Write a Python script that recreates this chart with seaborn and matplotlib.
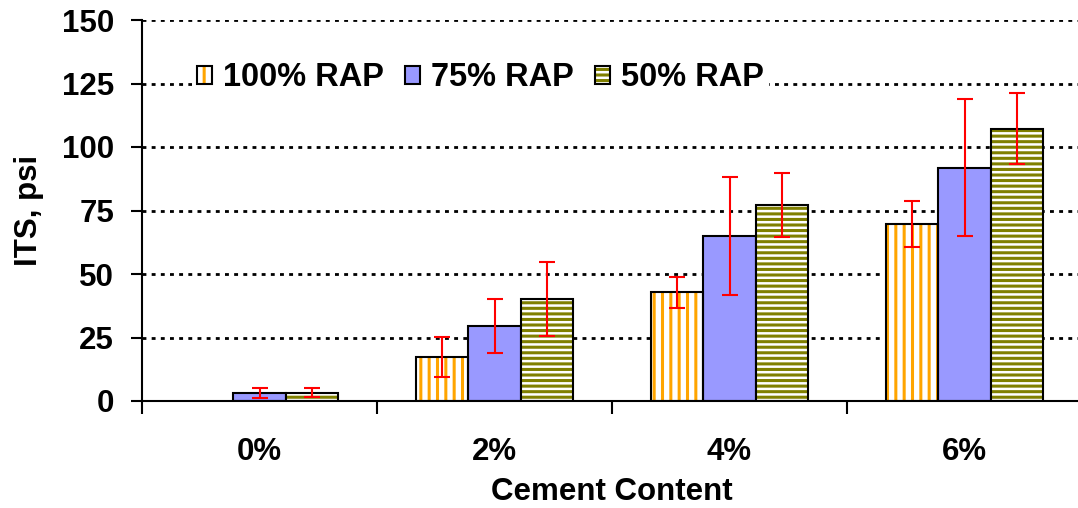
import numpy as np
import pandas as pd
import matplotlib
matplotlib.use('Agg')
import matplotlib.pyplot as plt
import seaborn as sns
from matplotlib.patches import Rectangle, Patch
from matplotlib.legend_handler import HandlerTuple

# values
cement = ['0%', '2%', '4%', '6%']
mixes = ['100% RAP', '75% RAP', '50% RAP']
its_100 = [0.0, 17.3, 42.8, 69.6]
its_75 = [3.3, 29.5, 65.0, 91.9]
its_50 = [3.3, 40.2, 77.2, 107.2]
err_100 = [np.nan, 7.9, 6.1, 9.0]
err_75 = [2.0, 10.6, 23.3, 27.0]
err_50 = [1.8, 14.5, 12.6, 14.0]

sns.set_theme(style='ticks')
plt.rcParams['font.family'] = ['Liberation Sans', 'DejaVu Sans']
plt.rcParams['font.weight'] = 'bold'
plt.rcParams['axes.labelweight'] = 'bold'
plt.rcParams['text.color'] = 'black'
plt.rcParams['axes.labelcolor'] = 'black'
plt.rcParams['hatch.linewidth'] = 2.2

df = pd.DataFrame({
    'Cement': cement * 3,
    'Mix': np.repeat(mixes, len(cement)),
    'ITS': its_100 + its_75 + its_50,
    'Err': err_100 + err_75 + err_50,
})

# face colour, hatch, hatch colour per mix
styles = {
    '100% RAP': ('white', '||', '#FFA500'),
    '75% RAP': ('#9999FF', '', None),
    '50% RAP': ('white', '---', '#808000'),
}
FS = 22.5

fig = plt.figure(figsize=(10.78, 5.08), dpi=100)
ax = fig.add_axes([142 / 1078, 1 - 401 / 508, (1082 - 142) / 1078, 381 / 508])

sns.barplot(data=df, x='Cement', y='ITS', hue='Mix', order=cement, hue_order=mixes,
            palette=[styles[m][0] for m in mixes], saturation=1, errorbar=None,
            width=0.665, gap=0, legend=False, ax=ax)

for p, (_, row) in zip(list(ax.patches), df.iterrows()):
    face, hatch, hcol = styles[row['Mix']]
    x, w, h = p.get_x(), p.get_width(), p.get_height()
    if hatch:
        p.set_hatch(hatch)
        p.set_edgecolor(hcol)
        p.set_linewidth(0)
        if h > 0:
            ax.add_patch(Rectangle((x, 0), w, h, fill=False, edgecolor='black',
                                   linewidth=1.5, zorder=p.get_zorder() + 0.1))
    else:
        p.set_edgecolor('black')
        p.set_linewidth(1.5)
    if not np.isnan(row['Err']):
        ax.errorbar(x + w / 2, h, yerr=row['Err'], fmt='none', ecolor='red',
                    elinewidth=1.5, capsize=5.5, capthick=1.5, zorder=5)

ax.set_xlim(-0.5, 3.5)
ax.set_ylim(0, 150)
ax.set_yticks(np.arange(0, 151, 25))
ax.set_xticks(np.arange(-0.5, 4, 1), minor=True)
ax.tick_params(axis='x', which='major', length=0, pad=26, labelsize=FS, colors='black')
ax.tick_params(axis='x', which='minor', length=9, width=1.5, direction='out', color='black')
ax.tick_params(axis='y', length=8, width=1.5, direction='out', pad=12, labelsize=FS,
               colors='black')
for lab in ax.get_xticklabels() + ax.get_yticklabels():
    lab.set_fontweight('bold')

ax.yaxis.grid(True, color='black', linestyle=(0, (1.4, 1.9)), linewidth=2)
ax.set_axisbelow(True)
sns.despine(ax=ax, top=True, right=True)
for s in ['left', 'bottom']:
    ax.spines[s].set_color('black')
    ax.spines[s].set_linewidth(1.5)

ax.set_xlabel('Cement Content', fontsize=FS, fontweight='bold', labelpad=7)
ax.set_ylabel('ITS, psi', fontsize=FS, fontweight='bold', labelpad=13)

handles = []
for m in mixes:
    face, hatch, hcol = styles[m]
    if hatch:
        handles.append((Patch(facecolor=face, edgecolor=hcol, linewidth=0, hatch=hatch),
                        Patch(fill=False, edgecolor='black', linewidth=1.5)))
    else:
        handles.append((Patch(facecolor=face, edgecolor='black', linewidth=1.5),))
leg = ax.legend(handles, mixes, handler_map={tuple: HandlerTuple(ndivide=1)},
                loc='center left', bbox_to_anchor=(0.036, 0.848), ncol=3,
                prop={'size': 23.5, 'weight': 'bold'}, handlelength=0.45, handleheight=0.45,
                handletextpad=0.35, columnspacing=0.65, frameon=True, fancybox=False,
                framealpha=1, borderpad=0.15)
leg.get_frame().set_edgecolor('none')
leg.get_frame().set_facecolor('white')

fig.savefig('out.png', dpi=100)
